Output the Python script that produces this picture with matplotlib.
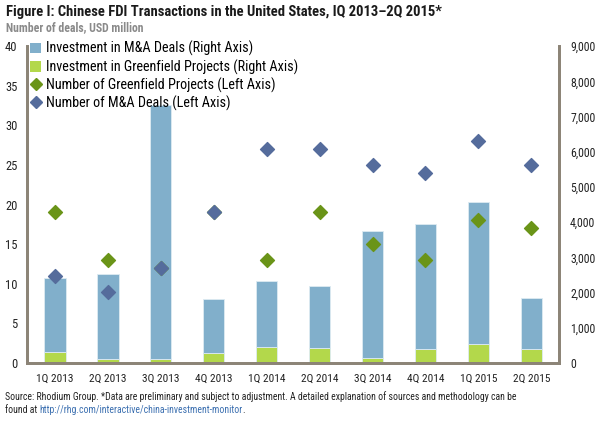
import matplotlib
matplotlib.use("Agg")
import matplotlib.pyplot as plt
from matplotlib.lines import Line2D
from matplotlib.patches import Patch
from matplotlib import font_manager
import numpy as np

quarters = ["1Q 2013", "2Q 2013", "3Q 2013", "4Q 2013", "1Q 2014",
            "2Q 2014", "3Q 2014", "4Q 2014", "1Q 2015", "2Q 2015"]
ma_invest = [2110, 2430, 7210, 1530, 1860, 1760, 3610, 3540, 4030, 1450]
gf_invest = [310, 105, 120, 285, 455, 425, 140, 405, 545, 400]
gf_count = [19, 13, 12, 19, 13, 19, 15, 13, 18, 17]
ma_count = [11, 9, 12, 19, 27, 27, 25, 24, 28, 25]

names = {f.name for f in font_manager.fontManager.ttflist}
FONT = ["DejaVu Sans"]
scale = 0.85
for cand in ["Roboto Condensed", "Liberation Sans Narrow", "Open Sans Condensed"]:
    if cand in names:
        FONT = [cand, "DejaVu Sans"]
        scale = 1.0
        break
plt.rcParams['font.family'] = FONT

BAR_BLUE = "#81AFCB"
BAR_GREEN = "#B3D84B"
MK_GREEN = "#6A9418"
MK_BLUE = "#556C9C"
SPINE = "#8C8477"

fig = plt.figure(figsize=(6.03, 4.23), dpi=100)
ax = fig.add_axes([0.045, 0.142, 0.882, 0.749])
ax2 = ax.twinx()
ax.set_zorder(ax2.get_zorder() + 1)
ax.patch.set_visible(False)

x = np.arange(len(quarters))
w = 0.41
ax2.bar(x, gf_invest, w, color=BAR_GREEN, edgecolor="#DDEBF2", linewidth=0.6)
ax2.bar(x, ma_invest, w, bottom=gf_invest, color=BAR_BLUE, edgecolor="#DDEBF2", linewidth=0.6)

ax.scatter(x, gf_count, marker="D", s=50, color=MK_GREEN, zorder=3)
ax.scatter(x, ma_count, marker="D", s=50, color=MK_BLUE, zorder=4)

ax.set_xlim(-0.52, 9.52)
ax.set_ylim(0, 40)
ax2.set_ylim(0, 9000)
ax.set_yticks(range(0, 41, 5))
ax2.set_yticks(range(0, 9001, 1000))
ax2.set_yticklabels([f"{v:,}" for v in range(0, 9001, 1000)])
ax.set_xticks(x)
ax.set_xticklabels(quarters)

for a in (ax, ax2):
    a.spines["top"].set_visible(False)
    for s in ("left", "right", "bottom"):
        a.spines[s].set_color(SPINE)
        a.spines[s].set_linewidth(2)
ax.tick_params(axis="y", length=0, labelsize=9 * scale, colors="#222222", pad=7)
ax.tick_params(axis="x", length=0, labelsize=8.2 * scale, colors="#222222", pad=8)
ax2.tick_params(axis="y", length=0, labelsize=8.5 * scale, colors="#222222", pad=8)

handles = [
    Patch(facecolor=BAR_BLUE, label="Investment in M&A Deals (Right Axis)"),
    Patch(facecolor=BAR_GREEN, label="Investment in Greenfield Projects (Right Axis)"),
    Line2D([], [], marker="D", color=MK_GREEN, linestyle="none", markersize=6,
           label="Number of Greenfield Projects (Left Axis)"),
    Line2D([], [], marker="D", color=MK_BLUE, linestyle="none", markersize=6,
           label="Number of M&A Deals (Left Axis)"),
]
leg = ax.legend(handles=handles, loc="upper left", bbox_to_anchor=(0.0, 1.025),
                frameon=False, fontsize=10.2 * scale, handlelength=0.8, handleheight=0.8,
                handletextpad=0.3, labelspacing=0.2, borderpad=0.2, borderaxespad=0.0)

fig.text(0.010, 0.972, "Figure I: Chinese FDI Transactions in the United States, IQ 2013\u20132Q 2015*",
         fontsize=10.5 * scale, fontweight="bold", color="#1A1A1A", va="center")
fig.text(0.010, 0.934, "Number of deals, USD million",
         fontsize=8.5 * scale, fontweight="bold", color="#8A8A8A", va="center")

fs = 7.0 * scale
fig.text(0.008, 0.063,
         "Source: Rhodium Group. *Data are preliminary and subject to adjustment. A detailed explanation of sources and methodology can be",
         fontsize=fs, color="#222222", va="center")
t1 = fig.text(0.008, 0.030, "found at ", fontsize=fs, color="#222222", va="center")
fig.canvas.draw()
bb = t1.get_window_extent()
t2 = fig.text(bb.x1 / fig.bbox.width, 0.030, "http://rhg.com/interactive/china-investment-monitor",
              fontsize=fs, color="#3B6FB0", va="center")
fig.canvas.draw()
bb2 = t2.get_window_extent()
fig.text(bb2.x1 / fig.bbox.width, 0.030, ".", fontsize=fs, color="#222222", va="center")

fig.savefig("out.png", dpi=100)
